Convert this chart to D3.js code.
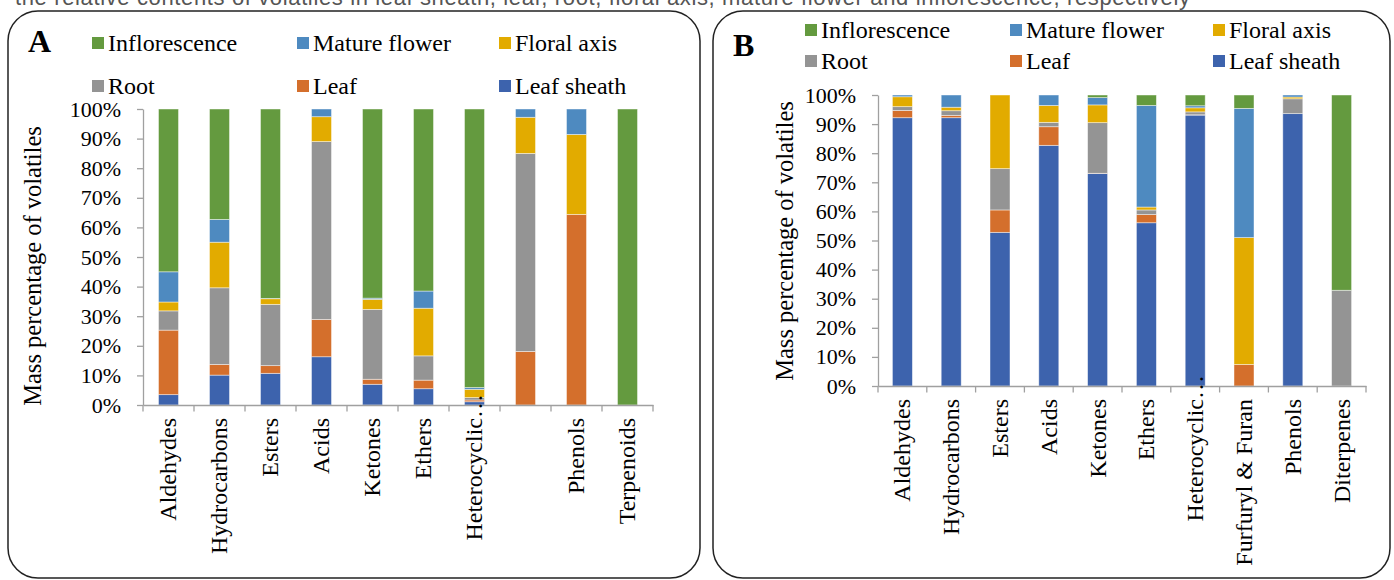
<!DOCTYPE html>
<html><head><meta charset="utf-8">
<script src="https://cdn.jsdelivr.net/npm/d3@7"></script>
<style>html,body{margin:0;padding:0;background:#fff;overflow:hidden}</style>
</head><body>
<svg id="c" width="1394" height="580"></svg>
<script>
// ---- data ----
const seriesNames = ["Leaf sheath","Leaf","Root","Floral axis","Mature flower","Inflorescence"];
const seriesColors = ["#3D63AD","#D46F2C","#949494","#E2AB00","#4E8AC0","#649A3F"];
const legendOrder = ["Inflorescence","Mature flower","Floral axis","Root","Leaf","Leaf sheath"];
const yTicks = [0,10,20,30,40,50,60,70,80,90,100];

const categoriesA = ["Aldehydes","Hydrocarbons","Esters","Acids","Ketones","Ethers","Heterocyclic…","","Phenols","Terpenoids"];
const sheathA = [3.5,10.1,10.7,16.3,7.0,5.5,1.1,0,0,0];
const leafA   = [21.8,3.6,2.6,12.6,1.7,2.9,0.6,18.1,64.4,0];
const rootA   = [6.5,25.9,20.7,60.1,23.6,8.2,0.8,66.9,0,0];
const floralA = [3.0,15.4,1.9,8.4,3.4,16.1,2.8,12.2,27.0,0];
const matureA = [10.2,7.7,0.1,2.6,0.4,5.8,0.6,2.8,8.6,0];
const inflA   = [55.0,37.3,64.0,0,63.9,61.5,94.1,0,0,100];

const categoriesB = ["Aldehydes","Hydrocarbons","Esters","Acids","Ketones","Ethers","Heterocyclic…","Furfuryl & Furan","Phenols","Diterpenes"];
const sheathB = [92.2,92.2,52.8,82.7,73.0,56.1,93.1,0,93.6,0];
const leafB   = [2.5,0.8,7.7,6.4,0.1,2.8,0.1,7.4,0,0];
const rootB   = [1.3,1.6,14.2,1.5,17.4,1.6,1.0,0,5.1,32.9];
const floralB = [3.4,1.2,25.3,5.8,6.1,1.0,1.4,43.6,0.6,0];
const matureB = [0.6,4.2,0,3.6,2.5,34.9,0.7,44.4,0.7,0];
const inflB   = [0,0,0,0,0.9,3.6,3.7,4.6,0,67.1];

const svg = d3.select("#c");
const serif = "'Liberation Serif','Times New Roman',serif";

// clipped caption line at top
svg.append("text").attr("x",15).attr("y",5).attr("font-family","'Liberation Sans',Arial,sans-serif")
  .attr("font-size",22).attr("fill","#555").attr("textLength",1175).attr("lengthAdjust","spacing")
  .text("the relative contents of volatiles in leaf sheath, leaf, root, floral axis, mature flower and inflorescence, respectively");

function panel(cfg){
  const g = svg.append("g");
  g.append("rect").attr("x",cfg.box[0]).attr("y",cfg.box[1]).attr("width",cfg.box[2]).attr("height",cfg.box[3])
    .attr("rx",30).attr("ry",30).attr("fill","#fff").attr("stroke","#222").attr("stroke-width",1.5);
  g.append("text").attr("x",cfg.letter[0]).attr("y",cfg.letter[1]).attr("font-family",serif)
    .attr("font-weight","bold").attr("font-size",32).attr("fill","#000").text(cfg.name);

  const x = d3.scaleBand().domain(d3.range(cfg.cats.length)).range([cfg.x0,cfg.x1]);
  const y = d3.scaleLinear().domain([0,100]).range([cfg.y0,cfg.y1]);
  const rows = cfg.cats.map((c,i)=>{const o={i}; seriesNames.forEach((s,k)=>o[s]=cfg.vals[k][i]); return o;});
  const stacked = d3.stack().keys(seriesNames)(rows);
  const bw = 20;
  stacked.forEach((layer,k)=>{
    g.append("g").selectAll("rect").data(layer).join("rect")
      .attr("x",d=>x(d.data.i)+x.bandwidth()/2-bw/2).attr("width",bw)
      .attr("y",d=>y(d[1])).attr("height",d=>Math.max(0,y(d[0])-y(d[1])))
      .attr("fill",seriesColors[k]).attr("stroke","#fff").attr("stroke-opacity",0.55).attr("stroke-width",0.8)
      .attr("display",d=>(d[1]-d[0])>0?null:"none");
  });
  // y axis
  const ya = g.append("g").attr("transform",`translate(${cfg.x0},0)`)
    .call(d3.axisLeft(y).tickValues(yTicks).tickFormat(d=>d+"%").tickSize(6).tickSizeOuter(0));
  ya.select(".domain").attr("stroke","#a0a0a0").attr("stroke-width",1.3);
  ya.selectAll(".tick line").attr("stroke","#a0a0a0").attr("stroke-width",1.3);
  ya.selectAll(".tick text").attr("font-family",serif).attr("font-size",22).attr("fill","#000").attr("x",-(cfg.x0-cfg.tickRight));
  // x axis
  const xa = g.append("g").attr("transform",`translate(0,${cfg.y0})`)
    .call(d3.axisBottom(x).tickValues([]).tickSizeOuter(0));
  xa.select(".domain").attr("stroke","#a0a0a0").attr("stroke-width",1.3);
  const bounds = x.domain().map(i=>x(i)).concat([cfg.x1]);
  g.append("g").selectAll("line").data(bounds).join("line")
    .attr("x1",d=>d).attr("x2",d=>d).attr("y1",cfg.y0).attr("y2",cfg.y0+6.5)
    .attr("stroke","#a0a0a0").attr("stroke-width",1.3);
  g.append("g").selectAll("text").data(cfg.cats).join("text")
    .attr("transform",(d,i)=>{
      const off = d.endsWith("…") ? 13-24 : 13;
      return `translate(${x(i)+x.bandwidth()/2},${cfg.y0+off}) rotate(-90)`;})
    .attr("text-anchor","end").attr("dy","0.33em").attr("font-family",serif).attr("font-size",24).attr("fill","#000")
    .text(d=>d);
  // y title
  g.append("text").attr("transform",`translate(${cfg.titleX},${cfg.titleY}) rotate(-90)`)
    .attr("text-anchor","middle").attr("dy","0.33em").attr("font-family",serif).attr("font-size",24.5).attr("fill","#000")
    .text("Mass percentage of volatiles");
  // legend
  legendOrder.forEach((name,j)=>{
    const col=j%3,row=Math.floor(j/3);
    const lx=cfg.legX[col], ly=cfg.legY[row];
    const k=seriesNames.indexOf(name);
    g.append("rect").attr("x",lx).attr("y",ly-6).attr("width",12).attr("height",12).attr("fill",seriesColors[k]);
    g.append("text").attr("x",lx+16).attr("y",ly).attr("dy","0.33em").attr("font-family",serif).attr("font-size",24)
      .attr("fill","#000").text(name);
  });
}

panel({name:"A",box:[8,11,692,567],letter:[28,52],cats:categoriesA,
  vals:[sheathA,leafA,rootA,floralA,matureA,inflA],
  x0:143,x1:653,y0:405,y1:109,tickRight:121,titleX:33,titleY:266,
  legX:[92,297,499],legY:[43,86]});
panel({name:"B",box:[713,11,677,567],letter:[733,56],cats:categoriesB,
  vals:[sheathB,leafB,rootB,floralB,matureB,inflB],
  x0:878,x1:1366,y0:386,y1:95,tickRight:856,titleX:785,titleY:241,
  legX:[805,1010,1213],legY:[30,61]});
</script>
</body></html>
